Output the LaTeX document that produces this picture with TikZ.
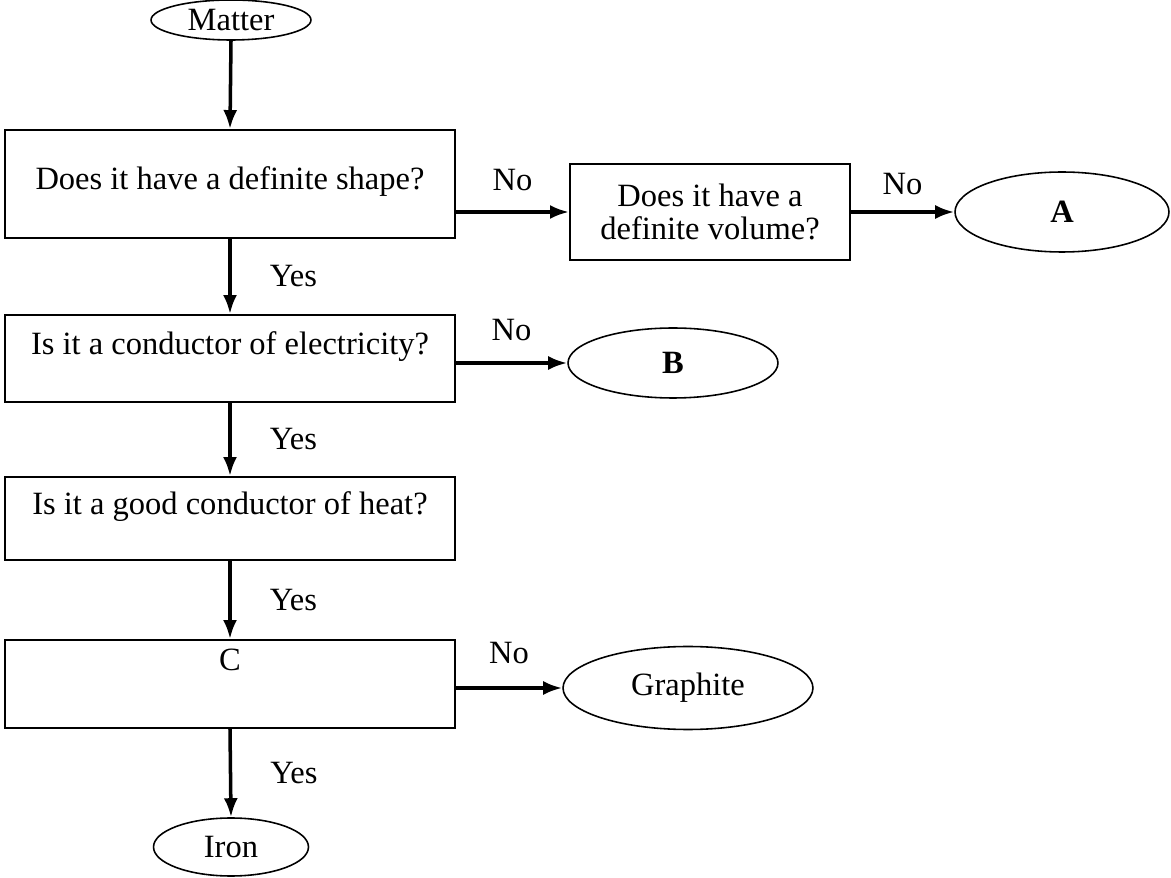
\documentclass[tikz,border=0pt]{standalone}
\usepackage{fontspec}
\setmainfont{Liberation Serif}
\usetikzlibrary{shapes.geometric,arrows.meta,positioning}
\tikzset{
  question/.style={
    shape = rectangle,
    draw,
    line width = 1.1pt,
    minimum width = 9cm,
    inner xsep = 0pt,
    inner ysep = 0pt
  },
  outcome/.style={
    shape = ellipse,
    draw,
    line width = 0.9pt,
    inner sep = 0pt
  },
  flow/.style={
    line width = 2pt,
    -{Latex[length=0.38cm,width=0.28cm]}
  },
  answer/.style={
    inner sep = 0pt
  },
  every picture/.style = {
    font=\fontsize{18.5}{19}\selectfont
  }
}

\begin{document}
\begin{tikzpicture}[x=0.02cm,y=-0.02cm]
\useasboundingbox (0,0) rectangle (1171,878);
% the questions, top to bottom
\node[outcome, minimum width=3.2cm, minimum height=0.8cm] (matter) at (231,20) {Matter};
\node[question, text height=1.2cm, text depth=0.96cm] (shape) at (230,184) {Does it have a definite shape?};
\node[question, minimum width=5.6cm, minimum height=1.92cm, align=center] (volume) at (710,212) {Does it have a\\definite volume?};
\node[outcome, minimum width=4.28cm, minimum height=1.6cm] (a) at (1062,212) {\textbf{A}};
\node[question, text height=0.8cm, text depth=0.94cm] (elec) at (230,358.5) {Is it a conductor of electricity?};
\node[outcome, minimum width=4.2cm, minimum height=1.4cm] (b) at (673,363) {\textbf{B}};
\node[question, text height=0.76cm, text depth=0.9cm] (heat) at (230,518.5) {Is it a good conductor of heat?};
\node[question, text height=0.6cm, text depth=1.16cm] (c) at (230,684) {C};
\node[outcome, minimum width=5cm, minimum height=1.66cm] (graphite) at (688,688) {Graphite};
\node[outcome, minimum width=3.1cm, minimum height=1.16cm] (iron) at (231,847) {Iron};

% arrows
\draw[flow] (matter.south) -- (shape.north);
\draw[flow] (shape.east |- volume.west) -- node[answer, above=0.38cm] (no1) {No} (volume.west);
\draw[flow] (volume.east) -- node[answer, above=0.3cm] (no2) {No} (a.west);
\draw[flow] (shape.south) -- node[answer, right=0.76cm] (yes1) {Yes} (elec.north);
\draw[flow] (elec.east |- b.west) -- node[answer, above=0.4cm] (no3) {No} (b.west);
\draw[flow] (elec.south) -- node[answer, right=0.76cm] (yes2) {Yes} (heat.north);
\draw[flow] (heat.south) -- node[answer, right=0.76cm] (yes3) {Yes} (c.north);
\draw[flow] (c.east |- graphite.west) -- node[answer, above=0.45cm] (no4) {No} (graphite.west);
\draw[flow] (c.south) -- node[answer, right=0.76cm] (yes4) {Yes} (iron.north);
\end{tikzpicture}
\end{document}
